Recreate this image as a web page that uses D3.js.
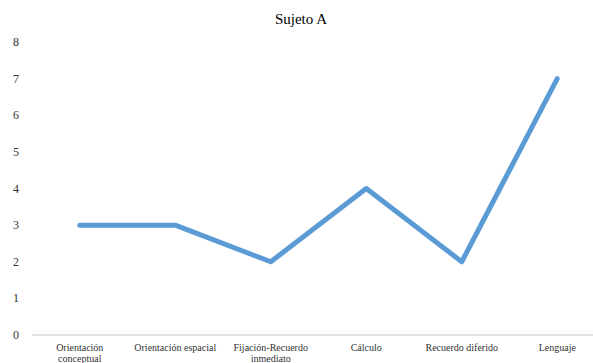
<!DOCTYPE html>
<html>
<head>
<meta charset="utf-8">
<script src="https://cdn.jsdelivr.net/npm/d3@7"></script>
<style>
  body { margin: 0; background: #fff; }
  svg { display: block; }
</style>
</head>
<body>
<svg id="chart" width="593" height="363"></svg>
<script>
const title = "Sujeto A";
const categories = [
  ["Orientación", "conceptual"],
  ["Orientación espacial"],
  ["Fijación-Recuerdo", "inmediato"],
  ["Cálculo"],
  ["Recuerdo diferido"],
  ["Lenguaje"]
];
const values = [3, 3, 2, 4, 2, 7];
const yTicks = [0, 1, 2, 3, 4, 5, 6, 7, 8];

const FONT = "'Liberation Serif', 'Tinos', 'Times New Roman', 'DejaVu Serif', serif";

const svg = d3.select("#chart");
const keys = categories.map((c) => c.join(" "));

const x = d3.scaleBand().domain(keys).range([32, 605]);
const y = d3.scaleLinear().domain([0, 8]).range([335, 42]);

svg.append("text")
  .attr("x", 301)
  .attr("y", 24)
  .attr("text-anchor", "middle")
  .attr("font-family", FONT)
  .attr("font-size", 15)
  .attr("fill", "#000")
  .text(title);

// y labels (no axis line, no gridlines)
svg.append("g")
  .selectAll("text")
  .data(yTicks)
  .enter()
  .append("text")
  .attr("x", 16)
  .attr("y", (d) => y(d) + 4)
  .attr("text-anchor", "middle")
  .attr("font-family", FONT)
  .attr("font-size", 12)
  .attr("fill", "#333")
  .text((d) => d);

// category axis line
svg.append("line")
  .attr("x1", x.range()[0])
  .attr("x2", x.range()[1])
  .attr("y1", y(0))
  .attr("y2", y(0))
  .attr("stroke", "#d9d9d9")
  .attr("stroke-width", 1.5);

const labels = svg.append("g")
  .selectAll("text")
  .data(categories)
  .enter()
  .append("text")
  .attr("text-anchor", "middle")
  .attr("font-family", FONT)
  .attr("font-size", 10)
  .attr("fill", "#333");

labels.each(function (lines, i) {
  const cx = x(keys[i]) + x.bandwidth() / 2;
  d3.select(this)
    .selectAll("tspan")
    .data(lines)
    .enter()
    .append("tspan")
    .attr("x", cx)
    .attr("y", (d, j) => 351 + j * 11)
    .text((d) => d);
});

const line = d3.line()
  .x((d, i) => x(keys[i]) + x.bandwidth() / 2)
  .y((d) => y(d));

svg.append("path")
  .datum(values)
  .attr("d", line)
  .attr("fill", "none")
  .attr("stroke", "#5b9bd5")
  .attr("stroke-width", 5)
  .attr("stroke-linecap", "round")
  .attr("stroke-linejoin", "round");
</script>
</body>
</html>
